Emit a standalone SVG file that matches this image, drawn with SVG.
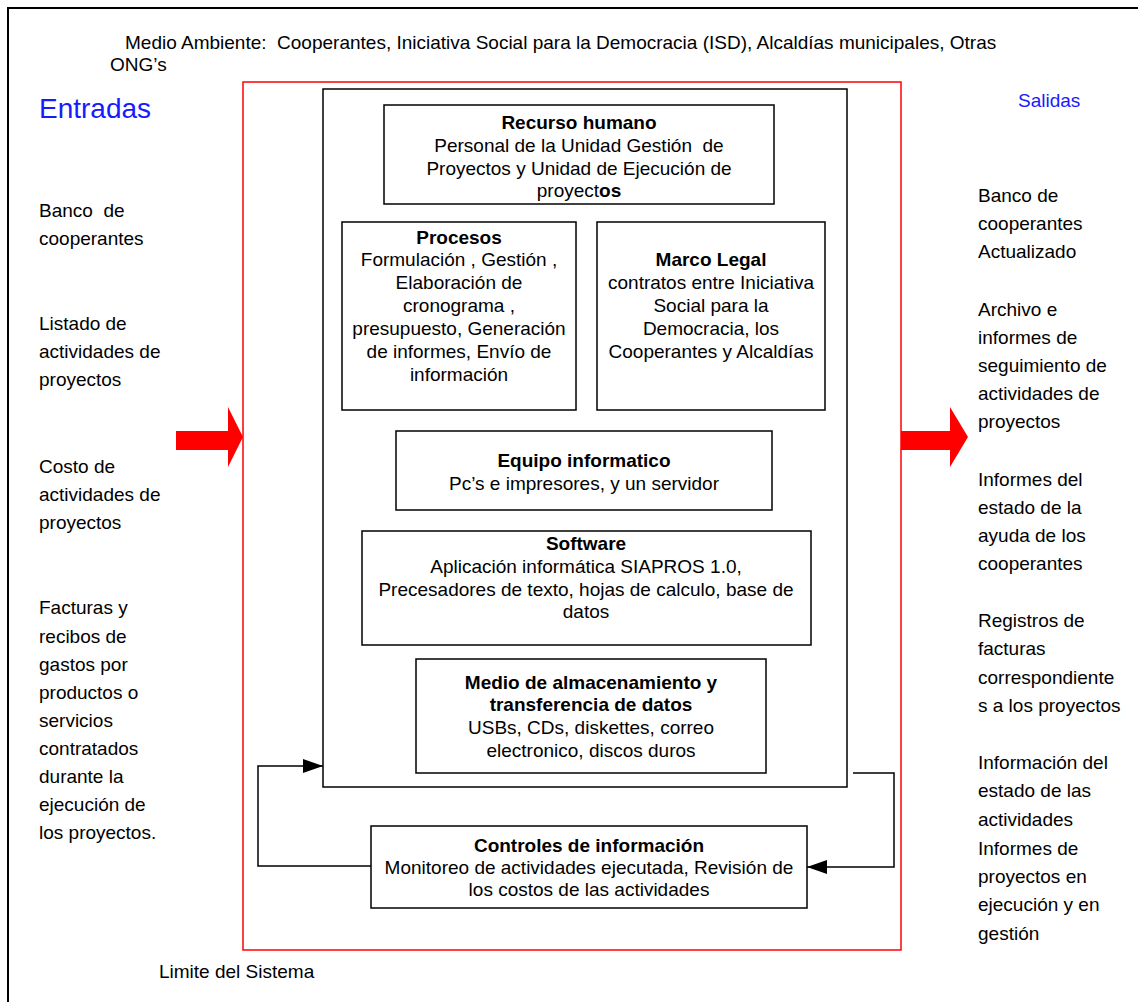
<svg xmlns="http://www.w3.org/2000/svg" width="1138" height="1002" viewBox="0 0 1138 1002">
  <style>
    text { font-family: "Liberation Sans", Arial, sans-serif; font-size: 19px; fill: #000; white-space: pre; }
    .c { text-anchor: middle; }
    .b { font-weight: bold; }
    .blue { fill: #1a1aff; }
    .box { fill: #fff; stroke: #000; stroke-width: 1.5; }
    .line { fill: none; stroke: #000; stroke-width: 1.5; }
  </style>
  <defs>
    <marker id="ah" viewBox="0 0 10 10" refX="10" refY="5" markerWidth="20" markerHeight="14" markerUnits="userSpaceOnUse" orient="auto" preserveAspectRatio="none">
      <path d="M0,0 L10,5 L0,10 Z" fill="#000"/>
    </marker>
  </defs>
  <rect width="1138" height="1002" fill="#fff"/>
  <!-- environment frame -->
  <path d="M8,1002 V8 H1138" fill="none" stroke="#000" stroke-width="2"/>
  <text x="125" y="49" xml:space="preserve">Medio Ambiente:  Cooperantes, Iniciativa Social para la Democracia (ISD), Alcaldías municipales, Otras</text>
  <text x="110" y="71">ONG’s</text>
  <text x="39" y="118" class="blue" style="font-size:28px">Entradas</text>
  <text x="1018" y="107" class="blue">Salidas</text>

  <!-- system boundary -->
  <rect x="243" y="82" width="658" height="868" fill="none" stroke="#ff0000" stroke-width="1.5"/>
  <text x="159" y="978">Limite del Sistema</text>

  <!-- input / output arrows -->
  <polygon points="176,431 228,431 228,407 243,437 228,467 228,450 176,450" fill="#ff0000"/>
  <polygon points="901,431 950,431 950,407 968,437 950,467 950,450 901,450" fill="#ff0000"/>

  <!-- inputs -->
  <g id="entradas">
    <text x="39" y="217" xml:space="preserve">Banco  de</text>
    <text x="39" y="245">cooperantes</text>
    <text x="39" y="330">Listado de</text>
    <text x="39" y="358">actividades de</text>
    <text x="39" y="386">proyectos</text>
    <text x="39" y="473">Costo de</text>
    <text x="39" y="501">actividades de</text>
    <text x="39" y="529">proyectos</text>
    <text x="39" y="614">Facturas y</text>
    <text x="39" y="643">recibos de</text>
    <text x="39" y="671">gastos por</text>
    <text x="39" y="699">productos o</text>
    <text x="39" y="727">servicios</text>
    <text x="39" y="755">contratados</text>
    <text x="39" y="783">durante la</text>
    <text x="39" y="811">ejecución de</text>
    <text x="39" y="839">los proyectos.</text>
  </g>

  <!-- outputs -->
  <g id="salidas">
    <text x="978" y="202">Banco de</text>
    <text x="978" y="230">cooperantes</text>
    <text x="978" y="258">Actualizado</text>
    <text x="978" y="316">Archivo e</text>
    <text x="978" y="344">informes de</text>
    <text x="978" y="372">seguimiento de</text>
    <text x="978" y="400">actividades de</text>
    <text x="978" y="428">proyectos</text>
    <text x="978" y="486">Informes del</text>
    <text x="978" y="514">estado de la</text>
    <text x="978" y="542">ayuda de los</text>
    <text x="978" y="570">cooperantes</text>
    <text x="978" y="627">Registros de</text>
    <text x="978" y="655">facturas</text>
    <text x="978" y="684">correspondiente</text>
    <text x="978" y="712">s a los proyectos</text>
    <text x="978" y="769">Información del</text>
    <text x="978" y="797">estado de las</text>
    <text x="978" y="826">actividades</text>
    <text x="978" y="855">Informes de</text>
    <text x="978" y="883">proyectos en</text>
    <text x="978" y="911">ejecución y en</text>
    <text x="978" y="940">gestión</text>
  </g>

  <!-- process container -->
  <g id="sistema">
    <rect x="323" y="89" width="524" height="698" class="box"/>
  </g>

  <g id="recurso-humano">
    <rect x="384" y="105" width="390" height="99" class="box"/>
    <text x="579" y="129" class="c b">Recurso humano</text>
    <text x="579" y="152" class="c" xml:space="preserve">Personal de la Unidad Gestión  de</text>
    <text x="579" y="175" class="c">Proyectos y Unidad de Ejecución de</text>
    <text x="579" y="197" class="c">proyect<tspan class="b">os</tspan></text>
  </g>

  <g id="procesos">
    <rect x="342" y="222" width="234" height="188" class="box"/>
    <text x="459" y="244" class="c b">Procesos</text>
    <text x="459" y="266" class="c">Formulación , Gestión ,</text>
    <text x="459" y="289" class="c">Elaboración de</text>
    <text x="459" y="312" class="c">cronograma ,</text>
    <text x="459" y="335" class="c">presupuesto, Generación</text>
    <text x="459" y="358" class="c">de informes, Envío de</text>
    <text x="459" y="381" class="c">información</text>
  </g>

  <g id="marco-legal">
    <rect x="597" y="222" width="228" height="188" class="box"/>
    <text x="711" y="266" class="c b">Marco Legal</text>
    <text x="711" y="289" class="c">contratos entre Iniciativa</text>
    <text x="711" y="312" class="c">Social para la</text>
    <text x="711" y="335" class="c">Democracia, los</text>
    <text x="711" y="358" class="c">Cooperantes y Alcaldías</text>
  </g>

  <g id="equipo-informatico">
    <rect x="396" y="431" width="376" height="79" class="box"/>
    <text x="584" y="467" class="c b">Equipo informatico</text>
    <text x="584" y="490" class="c">Pc’s e impresores, y un servidor</text>
  </g>

  <g id="software">
    <rect x="362" y="531" width="449" height="114" class="box"/>
    <text x="586" y="550" class="c b">Software</text>
    <text x="586" y="573" class="c">Aplicación informática SIAPROS 1.0,</text>
    <text x="586" y="596" class="c">Precesadores de texto, hojas de calculo, base de</text>
    <text x="586" y="618" class="c">datos</text>
  </g>

  <g id="almacenamiento">
    <rect x="416" y="659" width="350" height="114" class="box"/>
    <text x="591" y="689" class="c b">Medio de almacenamiento y</text>
    <text x="591" y="711" class="c b">transferencia de datos</text>
    <text x="591" y="734" class="c">USBs, CDs, diskettes, correo</text>
    <text x="591" y="757" class="c">electronico, discos duros</text>
  </g>

  <g id="controles">
    <rect x="371" y="826" width="436" height="82" class="box"/>
    <text x="589" y="852" class="c b">Controles de información</text>
    <text x="589" y="874" class="c">Monitoreo de actividades ejecutada, Revisión de</text>
    <text x="589" y="896" class="c">los costos de las actividades</text>
  </g>

  <!-- feedback loop -->
  <g id="connectors">
    <path d="M371,866 H258 V766 H323" class="line" marker-end="url(#ah)"/>
    <path d="M853,773 H894 V867 H807" class="line" marker-end="url(#ah)"/>
  </g>
</svg>
